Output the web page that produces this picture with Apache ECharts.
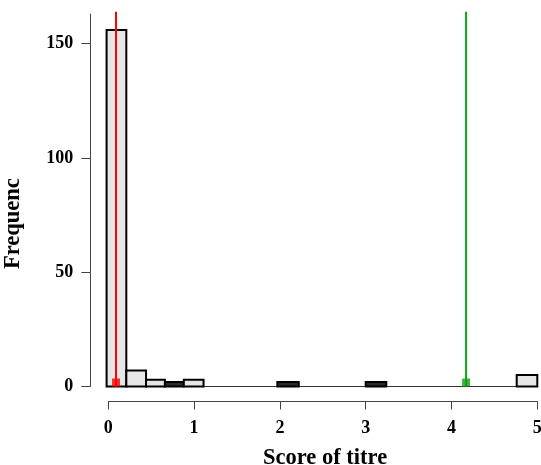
<!DOCTYPE html>
<html>
<head>
<meta charset="utf-8">
<script src="https://cdn.jsdelivr.net/npm/echarts@6/dist/echarts.min.js"></script>
<style>
html,body{margin:0;padding:0;background:#fff;}
#chart{width:541px;height:465px;}
</style>
</head>
<body>
<div id="chart"></div>
<script>
// Histogram bins (score of titre)
var binStart = [-0.02, 0.21, 0.44, 0.66, 0.88, 1.97, 3.00, 4.76];
var binEnd   = [0.21, 0.44, 0.66, 0.88, 1.11, 2.22, 3.24, 5.00];
var counts   = [156, 7, 3, 2, 3, 2, 2, 5];
var groups   = ['light', 'light', 'light', 'dark', 'light', 'dark', 'dark', 'light'];
// Reference lines
var redLineX = 0.09;
var greenLineX = 4.17;
var xTicks = [0, 1, 2, 3, 4, 5];
var yTicks = [0, 50, 100, 150];

var fillColors = { light: '#e6e6e6', dark: '#2a2a2a' };
var barData = binStart.map(function (s, i) { return [s, binEnd[i], counts[i], groups[i]]; });

var font = '"Liberation Serif", "Times New Roman", serif';
var chart = echarts.init(document.getElementById('chart'));
chart.setOption({
  backgroundColor: '#fff',
  animation: false,
  grid: { left: 108.3, right: 3.7, top: 14, bottom: 78.5, outerBoundsMode: 'none', containLabel: false },
  xAxis: {
    type: 'value', min: 0, max: 5, interval: 1, offset: 15,
    axisLine: { show: true, onZero: false, lineStyle: { color: '#444', width: 1 } },
    axisTick: { show: true, length: 8, customValues: xTicks, lineStyle: { color: '#444' } },
    axisLabel: { margin: 18, customValues: xTicks, fontFamily: font, fontWeight: 'bold', fontSize: 18, color: '#000' },
    splitLine: { show: false }
  },
  yAxis: {
    type: 'value', min: 0, max: 163, offset: 18,
    axisLine: { show: true, onZero: false, lineStyle: { color: '#444', width: 1 } },
    axisTick: { show: true, length: 9, customValues: yTicks, lineStyle: { color: '#444' } },
    axisLabel: { margin: 17, customValues: yTicks, fontFamily: font, fontWeight: 'bold', fontSize: 18, color: '#000' },
    splitLine: { show: false }
  },
  graphic: [
    { type: 'text', x: 263, y: 447, style: { text: 'Score of titre', font: 'bold 22.5px ' + font, fill: '#000' } },
    { type: 'text', rotation: Math.PI / 2, x: 2, y: 269, style: { text: 'Frequenc', font: 'bold 22.5px ' + font, fill: '#000' } }
  ],
  series: [
    {
      type: 'line', data: [[binStart[0], 0], [5, 0]], symbol: 'none', silent: true,
      lineStyle: { color: '#333', width: 1 }, clip: false, z: 1
    },
    {
      type: 'custom', clip: false, z: 2,
      data: barData,
      encode: { x: [0, 1], y: 2 },
      renderItem: function (params, api) {
        var p0 = api.coord([api.value(0), api.value(2)]);
        var p1 = api.coord([api.value(1), 0]);
        var g = groups[params.dataIndex];
        return {
          type: 'rect',
          shape: { x: p0[0], y: p0[1], width: p1[0] - p0[0], height: p1[1] - p0[1] },
          style: { fill: fillColors[g], stroke: '#000', lineWidth: 2 }
        };
      }
    },
    {
      type: 'line', data: [[redLineX, 0], [redLineX, 164]], symbol: 'none', clip: false, z: 3,
      lineStyle: { color: '#ff0000', width: 2 }
    },
    {
      type: 'line', data: [[greenLineX, 0], [greenLineX, 164]], symbol: 'none', clip: false, z: 3,
      lineStyle: { color: '#11a011', width: 2 }
    },
    {
      type: 'scatter', data: [[redLineX, 0]], symbol: 'rect', symbolSize: 8, symbolOffset: [0, -4], z: 4,
      itemStyle: { color: '#ff0000' }, clip: false
    },
    {
      type: 'scatter', data: [[greenLineX, 0]], symbol: 'rect', symbolSize: 8, symbolOffset: [0, -4], z: 4,
      itemStyle: { color: '#11a011' }, clip: false
    }
  ]
});
</script>
</body>
</html>
